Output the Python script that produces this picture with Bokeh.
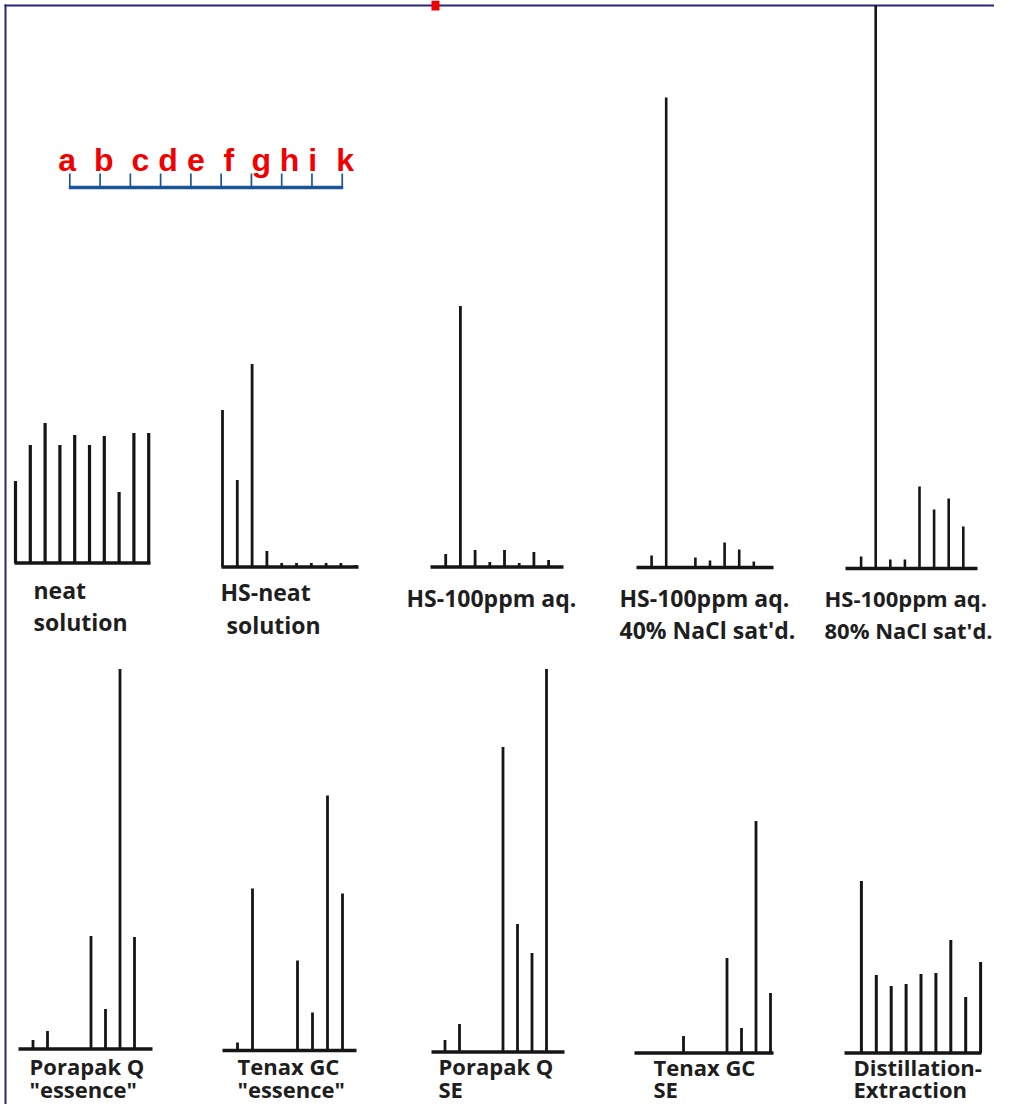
from bokeh.plotting import figure
from bokeh.models import Range1d, ColumnDataSource
from bokeh.embed import file_html
from bokeh.resources import INLINE
from bokeh.core.properties import value

# ---------------- data ----------------
compounds = ["a", "b", "c", "d", "e", "f", "g", "h", "i", "k"]

# peak heights (relative detector response) for compounds a..k
neat_solution   = [82, 118, 140, 118, 128, 118, 127, 71, 130, 130]
hs_neat         = [157, 87, 203, 16, 4, 4, 4, 4, 4, 2]
hs_100ppm       = [0, 13, 261, 17, 5, 17, 4, 15, 7, 0]
hs_100ppm_40    = [0, 12, 470, 0, 10, 7, 25, 18, 6, 0]
hs_100ppm_80    = [0, 12, 563, 9, 9, 82, 59, 70, 42, 0]
porapak_essence = [0, 9, 18, 0, 0, 113, 40, 380, 112, 0]
tenax_essence   = [0, 8, 162, 0, 0, 90, 38, 255, 157, 0]
porapak_se      = [0, 12, 28, 0, 0, 305, 128, 99, 383, 0]
tenax_se        = [0, 0, 0, 17, 0, 0, 95, 25, 232, 60]
distillation    = [0, 172, 78, 67, 69, 79, 80, 113, 56, 91]

label_neat      = ["neat", "solution"]
label_hs_neat   = ["HS-neat", "solution"]
label_hs_100    = ["HS-100ppm aq."]
label_hs_40     = ["HS-100ppm aq.", "40% NaCl sat'd."]
label_hs_80     = ["HS-100ppm aq.", "80% NaCl sat'd."]
label_pq_ess    = ["Porapak Q", "\"essence\""]
label_tx_ess    = ["Tenax GC", "\"essence\""]
label_pq_se     = ["Porapak Q", "SE"]
label_tx_se     = ["Tenax GC", "SE"]
label_dist      = ["Distillation-", "Extraction"]

# ---------------- layout (panel placement, pixel units) ----------------
# (heights, labels, x of compound a, spacing, baseline y, baseline x0, baseline x1,
#  label x, label baselines, label font size, peak line width)
panels = [
    (neat_solution,   label_neat,    15.0, 14.8, 562.5, 14, 150, [33, 33], [589, 621], 23, 3.2),
    (hs_neat,         label_hs_neat, 222.0, 14.8, 566.5, 221, 358, [220, 226], [591, 624], 23, 2.8),
    (hs_100ppm,       label_hs_100,  430.5, 14.7, 566.5, 430, 563, [406], [597], 23, 2.8),
    (hs_100ppm_40,    label_hs_40,   636.5, 14.6, 567.0, 636, 773, [619, 619], [597, 629], 23, 2.6),
    (hs_100ppm_80,    label_hs_80,   846.0, 14.6, 568.0, 845, 977, [824, 824], [597, 629], 22, 2.6),
    (porapak_essence, label_pq_ess,  18.0, 14.5, 1048.5, 18, 152, [29, 29], [1065, 1088], 22, 2.8),
    (tenax_essence,   label_tx_ess,  222.0, 15.0, 1050.0, 222, 356, [237, 237], [1065, 1088], 22, 2.8),
    (porapak_se,      label_pq_se,   430.0, 14.5, 1051.5, 431, 564, [438, 438], [1065, 1088], 22, 2.8),
    (tenax_se,        label_tx_se,   639.5, 14.5, 1052.5, 634, 773, [653, 653], [1066, 1088], 22, 2.8),
    (distillation,    label_dist,    846.0, 14.9, 1052.5, 844, 981, [853, 853], [1066, 1088], 22, 3.0),
]

p = figure(width=994, height=1104, x_range=Range1d(0, 994), y_range=Range1d(1104, 0),
           x_axis_type=None, y_axis_type=None, toolbar_location=None,
           output_backend="svg", min_border=0, background_fill_color="white",
           border_fill_color="white")
p.grid.visible = False
p.outline_line_color = None

# frame lines (top and left)
p.segment(x0=[4, 5], y0=[5, 4], x1=[994, 5], y1=[5, 1104],
          line_color="#26267a", line_width=2)
# red mark at top
p.quad(left=[431], right=[439], top=[0], bottom=[10], fill_color="#f00000", line_color=None)

# legend scale a..k
leg_x0, leg_dx, leg_y, leg_tick = 69.3, 30.27, 187.0, 173
leg_letter_x = [66.7, 103.3, 140, 167.5, 195.3, 228.3, 260.8, 289, 312.3, 344.7]
tick_x = [leg_x0 + i * leg_dx for i in range(len(compounds))]
p.segment(x0=[tick_x[0] - 1], y0=[leg_y], x1=[tick_x[-1] + 1], y1=[leg_y],
          line_color="#1c5596", line_width=3.4)
p.segment(x0=tick_x, y0=[leg_y] * len(tick_x), x1=tick_x, y1=[leg_tick] * len(tick_x),
          line_color="#1c5596", line_width=1.7)
p.text(x=leg_letter_x, y=[159] * len(compounds), text=compounds,
       text_font=value("Liberation Sans"), text_font_style="bold",
       text_font_size="32px", text_color="#f20000",
       text_align="center", text_baseline="alphabetic")

# chromatogram panels
for heights, labels, xa, dx, yb, bx0, bx1, lx, ly, fs, lw in panels:
    xs = [xa + i * dx for i in range(len(heights))]
    px = [x for x, h in zip(xs, heights) if h > 0]
    ph = [h for h in heights if h > 0]
    src = ColumnDataSource(dict(x=px, y0=[yb] * len(px), y1=[yb - h for h in ph]))
    p.segment(x0="x", y0="y0", x1="x", y1="y1", source=src,
              line_color="#151515", line_width=lw)
    p.segment(x0=[bx0], y0=[yb], x1=[bx1], y1=[yb], line_color="#151515", line_width=3.3)
    p.text(x=lx, y=ly, text=labels, text_font=value("Open Sans"),
           text_font_style="bold", text_font_size=f"{fs}px", text_color="#1e1e1e",
           text_align="left", text_baseline="alphabetic")

open("out.html", "w").write(file_html(p, INLINE))
